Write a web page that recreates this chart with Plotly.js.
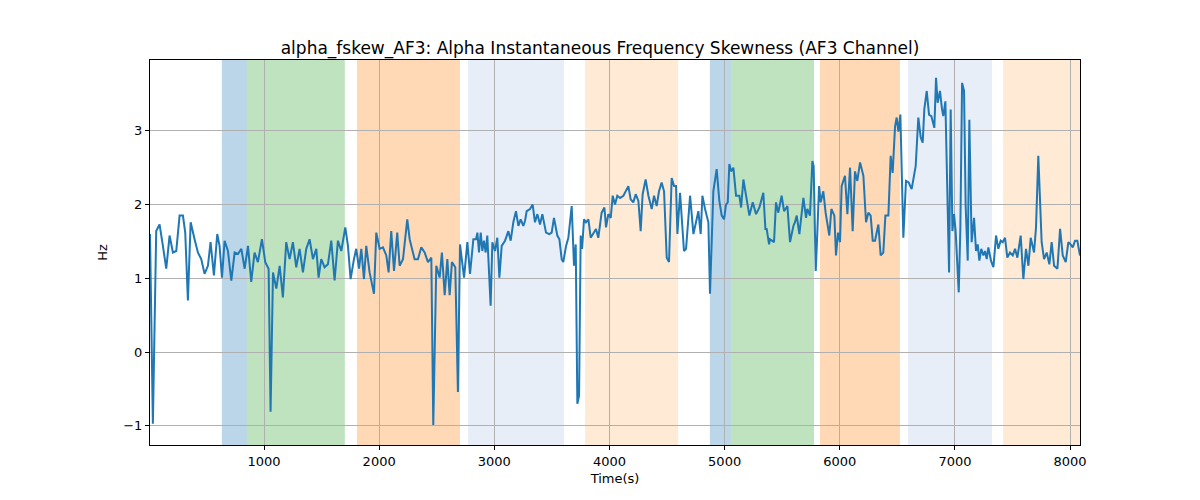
<!DOCTYPE html>
<html>
<head>
<meta charset="utf-8">
<script src="https://cdn.plot.ly/plotly-3.0.1.min.js"></script>
<style>body{margin:0;background:#fff}#chart{width:1200px;height:500px}</style>
</head>
<body>
<div id="chart"></div>
<script>
// time stamps (s) and skewness values
const times = [10,35,64,93,122,151,180,209,238,267,296,316,339,363,397,426,455,484,513,536,565,594,614,635,658,687,716,745,774,803,832,861,889,918,947,982,1011,1040,1057,1078,1107,1136,1164,1193,1222,1251,1280,1309,1338,1367,1396,1425,1454,1474,1497,1526,1555,1584,1613,1642,1671,1706,1729,1752,1781,1801,1825,1845,1868,1888,1917,1955,1975,2004,2033,2062,2082,2105,2129,2157,2178,2207,2244,2265,2285,2308,2337,2366,2395,2424,2453,2470,2496,2525,2545,2569,2592,2612,2632,2661,2684,
  2702,2737,2766,2789,2818,2841,2853,2867,2882,2896,2910,2925,2939,2968,2983,3006,3026,3044,3064,3093,3122,3142,3165,3188,3209,3229,3252,3267,3281,3310,3333,3353,3374,3397,3417,3449,3478,3498,3518,3547,3565,3585,3599,3623,3643,3672,3692,3707,3721,3736,3750,3762,3779,3796,3817,3837,3860,3883,3903,3932,3956,3970,3990,4011,4028,4048,4068,4092,4121,4141,4164,4184,4207,4228,4251,4271,4288,4314,4338,4367,4387,4410,4430,4453,4474,4497,4517,4540,4561,4578,4590,4613,4627,4647,4665,4700,4729,4752,4772,4792,4807,4830,4859,4873,4902,4931,4954,4975,4995,5012,5027,5041,5056,5076,5099,5128,5143,5163,5192,5215,5244,5273,5302,5336,5354,5365,5386,
  5394,5429,5446,5466,5495,5516,5545,5568,5597,5611,5626,5649,5669,5684,5707,5718,5741,5762,5773,5791,5805,5820,5834,5857,5877,5909,5927,5953,5967,5985,6002,6016,6045,6066,6089,6112,6132,6152,6176,6205,6228,6248,6268,6286,6306,6335,6355,6378,6396,6422,6442,6459,6480,6494,6509,6526,6552,6575,6598,6624,6659,6682,6703,6720,6734,6755,6775,6795,6821,6836,6850,6870,6888,6899,6917,6949,6963,6978,6992,7006,7033,7047,7062,7079,7093,7111,7125,7145,7166,7183,7198,7212,7229,7247,7261,7276,7290,7313,7334,7357,7377,7397,7415,7435,7455,7478,7502,7522,7542,7571,7594,7617,7638,7658,7687,7704,7724,7753,7774,7797,7820,7840,7861,7890,7913,7936,7962,7985,8005,8023,8043,8063,8086];
const skew = [1.6,-0.97,1.64,1.73,1.44,1.13,1.58,1.35,1.37,1.85,1.85,1.62,0.7,1.76,1.53,1.35,1.26,1.06,1.17,1.49,1.04,1.6,1.44,1.01,1.51,1.37,0.97,1.35,1.33,1.4,1.13,1.44,0.95,1.35,1.22,1.53,1.22,1.13,-0.81,1.08,0.86,1.17,0.74,1.49,1.26,1.49,1.15,1.4,1.08,1.4,1.53,1.26,1.4,1.01,1.26,1.15,1.19,1.51,0.97,1.51,1.37,1.69,1.44,0.99,1.26,1.4,1.13,1.4,0.99,1.44,1.08,0.79,1.62,1.4,1.42,1.31,1.08,1.64,1.1,1.62,1.17,1.26,1.8,1.53,1.4,1.26,1.26,1.42,1.35,1.22,1.28,-0.99,1.17,1.01,1.35,0.77,1.26,0.77,1.22,1.15,-0.54,
  1.46,1.01,1.49,1.06,1.53,1.53,1.62,1.35,1.62,1.37,1.51,1.35,1.58,0.63,1.49,1.37,1.55,1.01,1.44,1.51,1.64,1.51,1.76,1.91,1.71,1.8,1.71,1.78,1.91,1.94,2.0,1.76,1.87,1.73,1.87,1.62,1.6,1.62,1.82,1.58,1.53,1.26,1.22,1.44,1.55,1.98,1.17,1.46,-0.7,-0.59,1.58,1.4,1.8,1.76,1.8,1.55,1.62,1.67,1.55,1.89,1.96,1.69,1.87,1.82,2.12,2.0,2.12,2.09,2.12,2.18,2.25,2.07,2.03,2.14,2.05,1.64,2.14,2.34,2.12,1.94,2.12,1.98,2.18,2.3,2.18,1.28,1.22,2.36,2.25,2.25,1.6,2.16,1.8,1.37,1.4,2.12,1.6,1.76,1.91,1.6,2.12,1.94,1.76,0.79,2.18,2.48,2.05,1.85,1.8,2.0,2.03,2.55,2.45,2.5,2.12,2.12,1.96,2.34,2.03,1.85,2.03,1.87,1.96,2.16,1.67,1.67,1.46,1.53,
  1.49,2.03,1.89,2.12,1.91,1.98,1.49,1.71,1.76,1.85,1.6,1.87,2.09,1.82,1.94,1.85,2.59,2.52,1.1,1.62,2.25,2.03,2.18,1.89,1.58,1.94,1.85,1.31,1.62,1.49,2.25,2.39,1.87,2.5,1.64,2.45,2.32,2.57,2.39,1.76,1.89,1.85,1.51,1.51,1.73,1.31,1.35,1.85,1.85,2.66,2.43,3.06,3.18,2.99,3.22,1.55,2.32,2.3,2.21,2.52,3.18,2.91,2.84,3.29,3.54,3.22,3.2,3.04,3.72,3.38,3.54,3.29,3.2,3.4,1.08,3.29,1.64,1.87,1.64,0.81,1.67,3.65,3.54,1.98,1.24,3.15,1.49,1.82,1.37,1.46,1.24,1.4,1.31,1.37,1.26,1.42,1.24,1.15,1.58,1.4,1.51,1.49,1.55,1.28,1.35,1.31,1.4,1.28,1.58,0.99,1.4,1.17,1.55,1.35,1.69,2.66,1.49,1.26,1.35,1.19,1.49,1.17,1.13,1.67,1.31,1.22,1.49,1.46,1.42,1.51,1.51,1.31,1.35];

// shaded segments: [start, end, colour]
const bandStart = [634, 851, 1807, 2772, 3788, 4872, 5054, 5828, 6592, 7418];
const bandEnd   = [851, 1702, 2702, 3606, 4596, 5054, 5776, 6522, 7322, 8087];
const bandColor = ['rgba(31,119,180,0.3)', 'rgba(44,160,44,0.3)', 'rgba(255,127,14,0.3)', 'rgba(174,199,232,0.3)', 'rgba(255,187,120,0.3)',
                   'rgba(31,119,180,0.3)', 'rgba(44,160,44,0.3)', 'rgba(255,127,14,0.3)', 'rgba(174,199,232,0.3)', 'rgba(255,187,120,0.3)'];

const shapes = bandStart.map((s, i) => ({
    type: 'rect', xref: 'x', yref: 'paper', x0: s, x1: bandEnd[i], y0: 0, y1: 1,
    fillcolor: bandColor[i], line: { width: 0 }, layer: 'below'
}));

const trace = {
    type: 'scatter', mode: 'lines', x: times, y: skew,
    line: { color: '#1f77b4', width: 2 }
};

const axisStyle = {
    showgrid: true, gridcolor: '#b0b0b0', gridwidth: 1,
    showline: true, linecolor: '#000', linewidth: 1, mirror: true,
    ticks: 'outside', ticklen: 4, tickcolor: '#000',
    tickfont: { size: 13, color: '#000' }, zeroline: false
};

const layout = {
    width: 1200, height: 500,
    paper_bgcolor: '#fff', plot_bgcolor: '#fff',
    font: { family: 'DejaVu Sans', color: '#000' },
    margin: { l: 150, r: 120, t: 60, b: 55 },
    title: { text: 'alpha_fskew_AF3: Alpha Instantaneous Frequency Skewness (AF3 Channel)', font: { size: 17 }, x: 0.5, y: 0.915 },
    showlegend: false,
    shapes: shapes,
    xaxis: Object.assign({}, axisStyle, {
        range: [10, 8086], tickvals: [1000, 2000, 3000, 4000, 5000, 6000, 7000, 8000],
        title: { text: 'Time(s)', font: { size: 13 }, standoff: 6 }
    }),
    yaxis: Object.assign({}, axisStyle, {
        range: [-1.26, 3.96], tickvals: [-1, 0, 1, 2, 3],
        title: { text: 'Hz', font: { size: 13 }, standoff: 12 }
    })
};

Plotly.newPlot('chart', [trace], layout, { displayModeBar: false });
</script>
</body>
</html>
